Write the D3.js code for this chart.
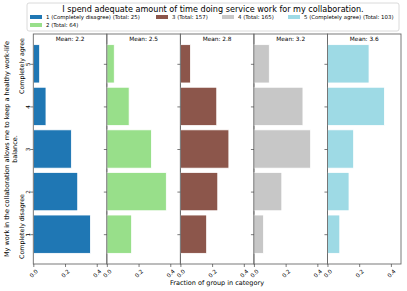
<!DOCTYPE html>
<html>
<head>
<meta charset="utf-8">
<script src="https://cdn.jsdelivr.net/npm/d3@7"></script>
<style>
  body { margin: 0; background: #fff; }
  text { font-family: "DejaVu Sans", sans-serif; fill: #000; }
</style>
</head>
<body>
<div id="chart"></div>
<script>
// data

var groups = ["1", "2", "3", "4", "5"],
    groupLabels = ["1 (Completely disagree)", "2", "3", "4", "5 (Completely agree)"],
    totals = [25, 64, 157, 165, 103],
    means = ["2.2", "2.5", "2.8", "3.2", "3.6"],
    colors = ["#1f77b4", "#98df8a", "#8c564b", "#c7c7c7", "#9edae5"];

// counts per answer 1..5 for each group
var counts = [
    [9, 7, 6, 2, 1],
    [10, 24, 18, 9, 3],
    [26, 37, 48, 36, 10],
    [10, 29, 59, 51, 16],
    [8, 14, 17, 37, 27]
];

var answers = [1, 2, 3, 4, 5],
    xTicks = [0, 0.2, 0.4];

var title = "I spend adequate amount of time doing service work for my collaboration.",
    yLabel = ["My work in the collaboration allows me to keep a healthy work-life", "balance."],
    xLabel = "Fraction of group in category";

// layout

var outerWidth = 407,
    outerHeight = 291,
    plot = { left: 33.3, right: 401, top: 34, bottom: 264 };

var svg = d3.select("#chart")
    .append("svg")
    .attr("width", outerWidth)
    .attr("height", outerHeight);

var panel = d3.scaleBand()
    .domain(groups)
    .range([plot.left, plot.right])
    .padding(0);

var x = d3.scaleLinear()
    .domain([0, 0.4637])
    .range([0, panel.bandwidth()]);

var y = d3.scaleLinear()
    .domain([0.3, 5.7])
    .range([plot.bottom, plot.top]);

var barH = y(0) - y(0.9);

groups.forEach(function(g, i) {
    var g0 = panel(g);
    var p = svg.append("g")
        .attr("transform", "translate(" + g0 + ",0)");

    var data = counts[i].map(function(c, j) {
        return { answer: answers[j], frac: c / totals[i] };
    });

    p.selectAll(".bar")
        .data(data)
        .enter()
        .append("rect")
        .classed("bar", true)
        .attr("x", 0)
        .attr("y", function(d) { return y(d.answer) - barH / 2; })
        .attr("width", function(d) { return x(d.frac); })
        .attr("height", barH)
        .style("fill", colors[i])
        .style("stroke", "#fff")
        .style("stroke-width", 0.8);

    // frame
    p.append("rect")
        .attr("x", 0)
        .attr("y", plot.top)
        .attr("width", panel.bandwidth())
        .attr("height", plot.bottom - plot.top)
        .style("fill", "none")
        .style("stroke", "#6a6a6a")
        .style("stroke-width", 0.9);

    var xAxis = d3.axisBottom(x)
        .tickValues(xTicks)
        .tickSize(3)
        .tickFormat(d3.format(".1f"));

    var gX = p.append("g")
        .attr("transform", "translate(0," + plot.bottom + ")")
        .call(xAxis);
    gX.select(".domain").remove();
    gX.selectAll("line").style("stroke", "#444").style("stroke-width", 0.7);
    gX.selectAll("text")
        .attr("y", 0)
        .attr("dy", null)
        .attr("transform", "translate(0,9.5) rotate(-45)")
        .style("text-anchor", "middle")
        .style("dominant-baseline", "central")
        .style("font-size", "5.6px");

    var yAxis = d3.axisLeft(y)
        .tickValues(answers)
        .tickSize(3)
        .tickFormat(i === 0 ? d3.format("d") : "");

    var gY = p.append("g").call(yAxis);
    gY.select(".domain").remove();
    gY.selectAll("line").style("stroke", "#444").style("stroke-width", 0.7);
    gY.selectAll("text")
        .attr("x", null)
        .attr("y", null)
        .attr("dy", null)
        .attr("transform", "translate(-3.6,0) rotate(-90)")
        .style("text-anchor", "middle")
        .style("font-size", "5.6px");

    p.append("text")
        .attr("x", panel.bandwidth() / 2)
        .attr("y", plot.top + 6.5)
        .style("text-anchor", "middle")
        .style("font-size", "5.8px")
        .text("Mean: " + means[i]);
});

// end labels on first panel
svg.append("text")
    .attr("transform", "translate(24.3,66) rotate(-90)")
    .style("text-anchor", "middle")
    .style("font-size", "6.3px")
    .text("Completely agree");

svg.append("text")
    .attr("transform", "translate(24.3,226.5) rotate(-90)")
    .style("text-anchor", "middle")
    .style("font-size", "6.3px")
    .text("Completely disagree");

// y label
yLabel.forEach(function(line, k) {
    svg.append("text")
        .attr("transform", "translate(" + (9 + k * 7.5) + ",149) rotate(-90)")
        .style("text-anchor", "middle")
        .style("font-size", "6.5px")
        .text(line);
});

// x label
svg.append("text")
    .attr("x", 217)
    .attr("y", 284.5)
    .style("text-anchor", "middle")
    .style("font-size", "6.5px")
    .text(xLabel);

// legend
var legend = svg.append("g");

legend.append("rect")
    .attr("x", 27)
    .attr("y", 3)
    .attr("width", 372)
    .attr("height", 28)
    .attr("rx", 2)
    .style("fill", "#fff")
    .style("stroke", "#d0d0d0")
    .style("stroke-width", 0.8);

legend.append("text")
    .attr("x", 213)
    .attr("y", 12)
    .style("text-anchor", "middle")
    .style("font-size", "8.1px")
    .text(title);

var legendPos = [[30, 17], [30, 25], [156, 17], [222, 17], [288, 17]];

groups.forEach(function(g, i) {
    var item = legend.append("g")
        .attr("transform", "translate(" + legendPos[i][0] + "," + legendPos[i][1] + ")");
    item.append("rect")
        .attr("x", 0)
        .attr("y", -2)
        .attr("width", 12)
        .attr("height", 4)
        .style("fill", colors[i]);
    item.append("text")
        .attr("x", 16)
        .attr("y", 0)
        .attr("dy", "0.35em")
        .style("font-size", "5.4px")
        .text(groupLabels[i] + " (Total: " + totals[i] + ")");
});
</script>
</body>
</html>
